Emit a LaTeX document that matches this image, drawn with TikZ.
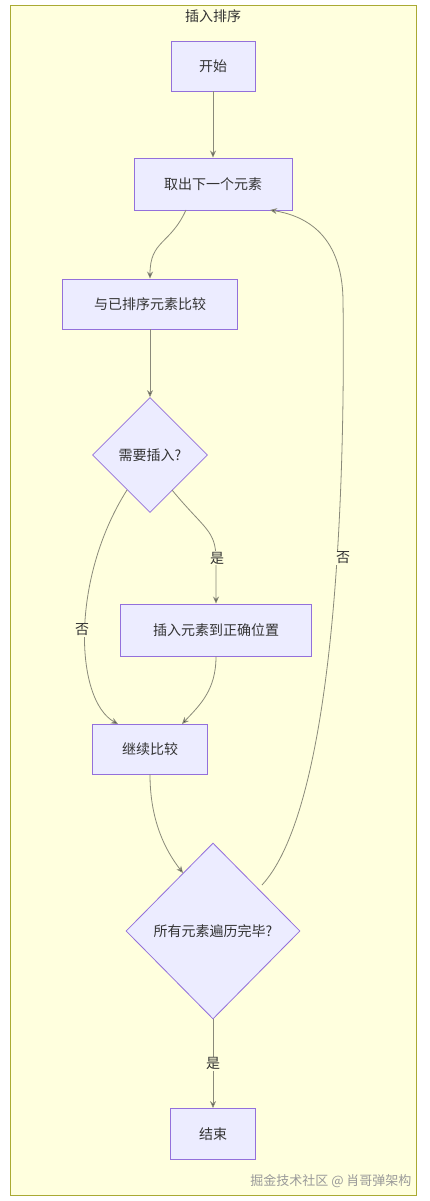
\documentclass[tikz,border=0pt]{standalone}
\usepackage{fontspec}
\setmainfont{Noto Sans CJK SC}
\usetikzlibrary{shapes.geometric,arrows.meta}
\definecolor{nodefill}{HTML}{ECECFF}
\definecolor{nodeline}{HTML}{9370DB}
\definecolor{clfill}{HTML}{FFFFDE}
\definecolor{clline}{HTML}{AAAA33}
\definecolor{edgecol}{HTML}{8A8A7A}
\definecolor{txt}{HTML}{333333}
\tikzset{
  box/.style={draw=nodeline, fill=nodefill, line width=0.9pt, rectangle, inner sep=0pt, text=txt, font=\fontsize{14}{16}\selectfont},
  dia/.style={draw=nodeline, fill=nodefill, line width=0.8pt, diamond, inner sep=0pt, text=txt, font=\fontsize{14}{16}\selectfont},
  edge/.style={draw=edgecol, line width=0.8pt, -{Stealth[length=7pt,width=6pt,fill=txt]}},
  lbl/.style={fill=clfill, text=txt, inner sep=1pt, font=\fontsize{14}{16}\selectfont}
}
\begin{document}
\begin{tikzpicture}[x=1pt,y=-1pt]
\useasboundingbox (0,0) rectangle (430,1201);
\fill[white] (0,0) rectangle (430,1201);
\draw[clline, fill=clfill, line width=0.8pt] (10,5) rectangle (416,1195);
\node[text=txt, font=\fontsize{14}{16}\selectfont] (title) at (213,16) {插入排序};

\node[box, minimum width=84pt, minimum height=50pt] (start) at (213,66) {开始};
\node[box, minimum width=158pt, minimum height=52pt] (take) at (213,184) {取出下一个元素};
\node[box, minimum width=175pt, minimum height=50pt] (cmp) at (150,304) {与已排序元素比较};
\node[dia, minimum width=115pt, minimum height=115pt] (need) at (150,455) {需要插入?};
\node[box, minimum width=191pt, minimum height=52pt] (ins) at (216,630) {插入元素到正确位置};
\node[box, minimum width=115pt, minimum height=50pt] (cont) at (150,749) {继续比较};
\node[dia, minimum width=174pt, minimum height=176pt] (all) at (213,931) {所有元素遍历完毕?};
\node[box, minimum width=85pt, minimum height=51pt] (end) at (213,1134) {结束};

\coordinate (t1) at (186,210);
\coordinate (n1) at (172,490);
\coordinate (n2) at (127,490);
\coordinate (c1) at (118,724);
\coordinate (c2) at (182,724);
\coordinate (a1) at (183,873);
\coordinate (a2) at (262,885);
\coordinate (t2) at (270,210);

\draw[edge] (start) -- (take);
\draw[edge] (t1) .. controls (170,245) and (150,240) .. (cmp.north);
\draw[edge] (cmp) -- (need);
\draw[edge] (n1) .. controls (205,530) and (216,530) .. (216,560) -- (ins.north);
\node[lbl] (yes1) at (217,558) {是};
\draw[edge] (n2) .. controls (70,580) and (75,700) .. (c1);
\draw[edge] (ins.south) .. controls (216,690) and (200,705) .. (c2);
\draw[edge] (cont.south) .. controls (150,820) and (165,850) .. (a1);
\draw[edge] (a2) .. controls (340,800) and (345,450) .. (343,300) .. controls (342,230) and (300,215) .. (t2);
\draw[edge] (all.south) -- (end.north) node[pos=0.5, lbl] (yes2) {是};
\node[lbl] (no1) at (82,630) {否};
\node[lbl] (no2) at (343,558) {否};
\node[text=gray!80, font=\fontsize{13}{15}\selectfont, anchor=east] (wm) at (415,1181) {掘金技术社区 @ 肖哥弹架构};
\end{tikzpicture}
\end{document}
